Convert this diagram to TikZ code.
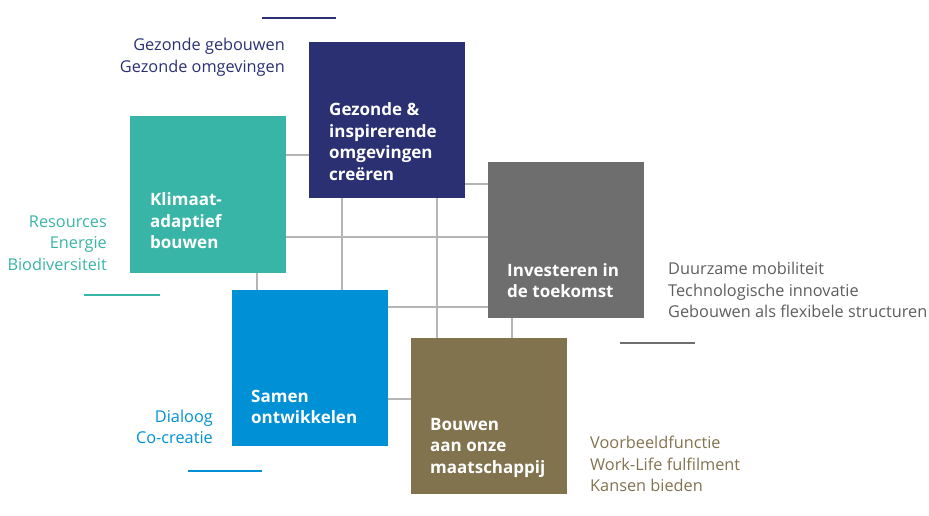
\documentclass[tikz,border=0pt]{standalone}
\usepackage{fontspec}
\setmainfont{Open Sans}
\definecolor{gezondblue}{HTML}{2B3073}
\definecolor{klimaatteal}{HTML}{39B5A7}
\definecolor{toekomstgray}{HTML}{6E6E6E}
\definecolor{samenblue}{HTML}{0090D6}
\definecolor{bouwenbrown}{HTML}{82734F}
\definecolor{linkgray}{HTML}{B5B5B5}
\tikzset{
  vlak/.style={minimum size=156pt, inner sep=0pt, outer sep=0pt},
  titel/.style={anchor=west, align=left, inner sep=0pt, text=white,
    font=\fontsize{17}{21.5}\selectfont\bfseries},
  label/.style={inner sep=0pt, font=\fontsize{16.3}{21.5}\selectfont},
  link/.style={linkgray, line width=2pt},
  streep/.style={line width=1.6pt}
}
\begin{document}
\begin{tikzpicture}[x=1pt, y=-1pt]
  \useasboundingbox (0,0) rectangle (929,516);
  % de vijf vlakken
  \node[vlak, fill=gezondblue] (gezond) at (387,120) {};
  \node[vlak, fill=klimaatteal] (klimaat) at (208,194.5) {};
  \node[vlak, fill=toekomstgray] (toekomst) at (566,240) {};
  \node[vlak, fill=samenblue] (samen) at (310,368) {};
  \node[vlak, fill=bouwenbrown] (bouwen) at (489,416) {};
  % verbindingen tussen de vlakken
  \draw[link] (klimaat.east |- 0,155) -- (gezond.west |- 0,155);
  \draw[link] (klimaat.east |- 0,237) -- (toekomst.west |- 0,237);
  \draw[link] (gezond.east |- 0,184) -- (toekomst.west |- 0,184);
  \draw[link] (gezond.south -| 342,0) -- (samen.north -| 342,0);
  \draw[link] (gezond.south -| 437,0) -- (bouwen.north -| 437,0);
  \draw[link] (klimaat.south -| 257,0) -- (samen.north -| 257,0);
  \draw[link] (samen.east |- 0,307) -- (toekomst.west |- 0,307);
  \draw[link] (samen.east |- 0,399) -- (bouwen.west |- 0,399);
  \draw[link] (toekomst.south -| 512,0) -- (bouwen.north -| 512,0);
  % titels in de vlakken
  \node[titel] (gezondtxt) at (329,141.5) {Gezonde \&\\inspirerende\\omgevingen\\creëren};
  \node[titel] (klimaattxt) at (150,221) {Klimaat-\\adaptief\\bouwen};
  \node[titel] (toekomsttxt) at (507,280.5) {Investeren in\\de toekomst};
  \node[titel] (samentxt) at (251,407) {Samen\\ontwikkelen};
  \node[titel] (bouwentxt) at (430,447.5) {Bouwen\\aan onze\\maatschappij};
  % toelichting bij elk vlak
  \node[label, anchor=east, align=right, text=gezondblue] (gezondlbl) at (285,57.5) {Gezonde gebouwen\\Gezonde omgevingen};
  \node[label, anchor=east, align=right, text=klimaatteal] (klimaatlbl) at (107,243) {Resources\\Energie\\Biodiversiteit};
  \node[label, anchor=west, align=left, text=toekomstgray!85!black] (toekomstlbl) at (668,290) {Duurzame mobiliteit\\Technologische innovatie\\Gebouwen als flexibele structuren};
  \node[label, anchor=east, align=right, text=samenblue] (samenlbl) at (213,427) {Dialoog\\Co-creatie};
  \node[label, anchor=west, align=left, text=bouwenbrown] (bouwenlbl) at (590,464) {Voorbeeldfunctie\\Work-Life fulfilment\\Kansen bieden};
  % korte strepen
  \draw[streep, gezondblue] (262,18) -- (336,18);
  \draw[streep, klimaatteal] (84,295) -- (160,295);
  \draw[streep, toekomstgray] (620,343) -- (695,343);
  \draw[streep, samenblue] (188,471) -- (262,471);
\end{tikzpicture}
\end{document}
